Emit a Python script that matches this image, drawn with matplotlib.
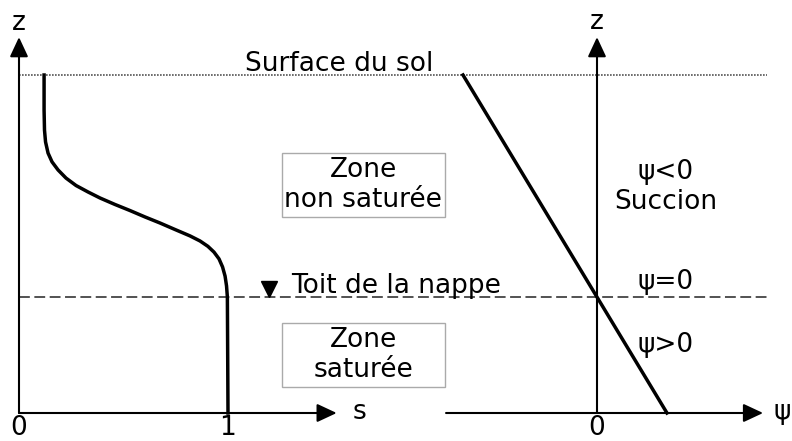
import matplotlib
matplotlib.use('Agg')
import matplotlib.pyplot as plt
from matplotlib.patches import Rectangle

# saturation profile s(z) (z normalised: 0 = bottom, 1 = ground surface)
s_curve = [0.120, 0.120, 0.122, 0.127, 0.139, 0.158, 0.187, 0.225, 0.273, 0.330,
           0.388, 0.459, 0.531, 0.603, 0.675, 0.746, 0.818, 0.866, 0.904, 0.933,
           0.957, 0.974, 0.986, 0.993, 0.997, 1.000]
z_curve = [1.000, 0.896, 0.837, 0.802, 0.769, 0.743, 0.719, 0.695, 0.673, 0.654,
           0.636, 0.617, 0.599, 0.580, 0.562, 0.543, 0.524, 0.509, 0.493, 0.476,
           0.456, 0.432, 0.405, 0.376, 0.343, 0.000]

# pressure head psi(z), straight line through psi = 0 at the water table
psi_line = [-0.657, 0.343]
z_line = [1.000, 0.000]

z_surface = 1.0
z_water = 0.343

s_ticks = [0, 1]
s_tick_labels = ['0', '1']
psi_ticks = [0]
psi_tick_labels = ['0']

FS = 19
W, H = 792, 441

fig = plt.figure(figsize=(W / 100, H / 100), dpi=100)

# left panel axes (s units), right panel axes (psi units); both share z
ax = fig.add_axes([0, 0, 1, 1])
ax.set_xlim(-19 / 209, (W - 19) / 209)
ax.set_ylim(-28 / 338, (H - 28) / 338)
ax.axis('off')

ax2 = fig.add_axes([0, 0, 1, 1])
ax2.set_xlim(-597 / 204, (W - 597) / 204)
ax2.set_ylim(-28 / 338, (H - 28) / 338)
ax2.axis('off')
ax2.patch.set_alpha(0)

arrow = dict(arrowstyle='-|>,head_length=0.6,head_width=0.28', lw=1.5,
             color='black', shrinkA=0, shrinkB=0, mutation_scale=20)

# ground surface and water table lines across both panels
x_end = (767 - 19) / 209
ax.plot([0, x_end], [z_surface, z_surface], ls=(0, (1, 0.8)), lw=1.2, color='#555555')
ax.plot([0, x_end], [z_water, z_water], ls=(0, (6, 2.5)), lw=1.3, color='#444444')

# left axes
ax.annotate('', xy=(0, 1.112), xytext=(0, 0), arrowprops=arrow)
ax.annotate('', xy=(1.52, 0), xytext=(0, 0), arrowprops=arrow)
ax.text(0, 1.154, 'z', fontsize=FS, ha='center', va='center')
ax.text(1.627, 0.003, 's', fontsize=FS, ha='center', va='center')
for t, lab in zip(s_ticks, s_tick_labels):
    ax.text(t, -0.044, lab, fontsize=FS, ha='center', va='center')

ax.plot(s_curve, z_curve, color='black', lw=2.5, solid_joinstyle='round')

# annotations
ax.text(1.531, 1.011, 'Surface du sol', fontsize=FS, ha='center', va='baseline')
ax.plot([1.194], [0.366], marker='v', color='black', markersize=11)
ax.text(1.301, 0.355, 'Toit de la nappe', fontsize=FS, ha='left', va='baseline')

for (x0, x1, y0, y1) in [(1.258, 2.038, 0.580, 0.769), (1.258, 2.038, 0.077, 0.266)]:
    ax.add_patch(Rectangle((x0, y0), x1 - x0, y1 - y0, fill=False,
                           edgecolor='#aaaaaa', lw=1.0))
ax.text(1.648, 0.675, 'Zone\nnon saturée', fontsize=FS, ha='center', va='center',
        linespacing=1.2)
ax.text(1.648, 0.172, 'Zone\nsaturée', fontsize=FS, ha='center', va='center',
        linespacing=1.2)

# right axes
ax2.annotate('', xy=(0, 1.112), xytext=(0, 0), arrowprops=arrow)
ax2.annotate('', xy=(0.814, 0), xytext=(-0.74, 0), arrowprops=arrow)
ax2.text(0, 1.157, 'z', fontsize=FS, ha='center', va='center')
ax2.text(0.907, 0.003, 'ψ', fontsize=FS, ha='center', va='center')
for t, lab in zip(psi_ticks, psi_tick_labels):
    ax2.text(t, -0.044, lab, fontsize=FS, ha='center', va='center')

ax2.plot(psi_line, z_line, color='black', lw=2.5)

ax2.text(0.338, 0.669, 'ψ<0\nSuccion', fontsize=FS, ha='center', va='center',
         linespacing=1.2)
ax2.text(0.338, 0.367, 'ψ=0', fontsize=FS, ha='center', va='baseline')
ax2.text(0.338, 0.201, 'ψ>0', fontsize=FS, ha='center', va='center')

fig.savefig('out.png', dpi=100, facecolor='white')
